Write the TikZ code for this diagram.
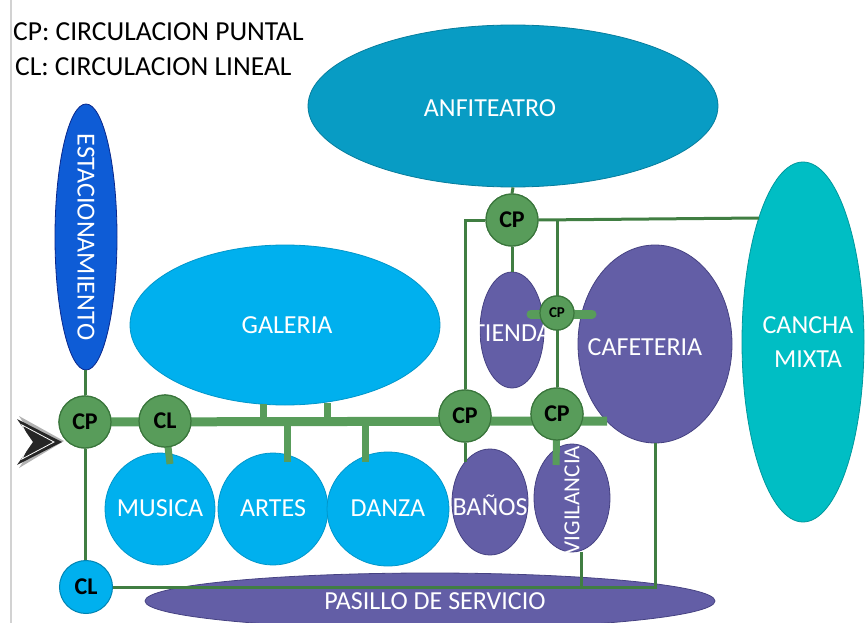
\documentclass[tikz,border=0pt]{standalone}
\usepackage{fontspec}
\setmainfont{Carlito}
\usetikzlibrary{shapes.geometric}
\definecolor{anfc}{RGB}{8,156,196}
\definecolor{skyc}{RGB}{0,176,238}
\definecolor{estc}{RGB}{14,92,214}
\definecolor{estb}{RGB}{10,40,140}
\definecolor{purc}{RGB}{99,94,166}
\definecolor{purb}{RGB}{70,66,130}
\definecolor{canc}{RGB}{0,190,196}
\definecolor{grnc}{RGB}{88,156,90}
\definecolor{grnb}{RGB}{58,118,60}
\begin{document}
\begin{tikzpicture}[x=1pt,y=-1pt,
  shp/.style={ellipse, inner sep=0pt, draw, line width=0.8pt},
  lbl/.style={text=white, font=\fontsize{26}{30}\selectfont, inner sep=0pt, align=center},
  cpnode/.style={circle, fill=grnc, draw=grnb, line width=1.2pt, inner sep=0pt, minimum size=52pt, font=\bfseries\fontsize{24}{26}\selectfont},
  barline/.style={draw=grnc, line width=9pt},
  stub/.style={draw=grnc, line width=7pt},
  thinline/.style={draw=grnb!80!grnc, line width=3pt},
]
\useasboundingbox (0,0) rectangle (865,623);
\clip (0,0) rectangle (865,623);
\draw[gray!35, line width=1.2pt] (11,0) -- (11,623);

% legend
\node[anchor=west, inner sep=0pt, font=\fontsize{27.5}{30}\selectfont] (leg1) at (13,32) {CP: CIRCULACION PUNTAL};
\node[anchor=west, inner sep=0pt, font=\fontsize{27.5}{30}\selectfont] (leg2) at (15,67) {CL: CIRCULACION LINEAL};

% spaces
\node[shp, fill=anfc, draw=anfc!80!black, minimum width=410pt, minimum height=162pt] (anf) at (513,106) {};
\node[lbl] (anft) at (490,108) {ANFITEATRO};
\node[shp, fill=estc, draw=estb, minimum width=62pt, minimum height=266pt] (est) at (86,237) {};
\node[lbl, rotate=-90] (estt) at (86,237) {ESTACIONAMIENTO};
\node[shp, fill=skyc, draw=skyc!85!black, minimum width=310pt, minimum height=160pt] (gal) at (285,325) {};
\node[lbl] (galt) at (287,325) {GALERIA};
\node[shp, fill=canc, draw=canc!80!black, minimum width=122pt, minimum height=360pt] (can) at (803,342) {};
\node[lbl] (cant) at (808,342) {CANCHA\\[4pt]MIXTA};
\node[shp, fill=purc, draw=purb, minimum width=64pt, minimum height=116pt] (tie) at (512,330) {};
\node[lbl] (tiet) at (512,333) {TIENDA};
\node[shp, fill=purc, draw=purb, minimum width=154pt, minimum height=198pt] (caf) at (655,344) {};
\node[lbl] (caft) at (645,347) {CAFETERIA};
\node[shp, fill=skyc, draw=skyc!85!black, minimum width=110pt, minimum height=112pt] (mus) at (160,509) {};
\node[lbl] (must) at (160,508) {MUSICA};
\node[shp, fill=skyc, draw=skyc!85!black, minimum width=110pt, minimum height=112pt] (art) at (273,509) {};
\node[lbl] (artt) at (273,508) {ARTES};
\node[shp, fill=skyc, draw=skyc!85!black, minimum width=122pt, minimum height=114pt] (dan) at (388,509) {};
\node[lbl] (dant) at (388,508) {DANZA};
\node[shp, fill=purc, draw=purb, minimum width=76pt, minimum height=106pt] (ban) at (490,502) {};
\node[lbl] (bant) at (490,505) {BAÑOS};
\node[shp, fill=purc, draw=purb, minimum width=76pt, minimum height=108pt] (vig) at (572,498) {};
\node[lbl, font=\fontsize{23}{26}\selectfont, rotate=90] (vigt) at (572,500) {VIGILANCIA};
\node[shp, fill=purc, draw=purb, minimum width=570pt, minimum height=56pt] (pas) at (430,601) {};
\node[lbl] (past) at (435,601) {PASILLO DE SERVICIO};

% coordinates for free ends
\coordinate (barend) at (607,421);
\coordinate (g1) at (263,404);
\coordinate (g2) at (327,403);
\coordinate (ma) at (170,464);
\coordinate (a1) at (287,421);
\coordinate (a2) at (287,462);
\coordinate (d1) at (365,421);
\coordinate (d2) at (365,462);
\coordinate (b2) at (465,462);
\coordinate (v2) at (556,465);
\coordinate (vs) at (581,552);
\coordinate (cx) at (759,218);
\coordinate (sL) at (531,314);
\coordinate (sR) at (592,314);

% CP / CL nodes (placed first for naming, redrawn on top)
\node[cpnode] (cpL) at (85,422) {CP};
\node[cpnode] (clA) at (165,421) {CL};
\node[cpnode] (cpM) at (465,416) {CP};
\node[cpnode] (cpR) at (557,414) {CP};
\node[cpnode] (cpT) at (512,220) {CP};
\node[cpnode, minimum size=34pt, font=\bfseries\fontsize{15}{17}\selectfont] (cpS) at (557,313) {CP};
\node[circle, fill=skyc, draw=skyc!75!black, line width=1pt, minimum size=53pt, inner sep=0pt, font=\bfseries\fontsize{24}{26}\selectfont] (clB) at (86,587) {CL};

% connectors
\draw[thinline] (anf.south) -- (cpT.north);
\draw[thinline] (cpT.west) -| (cpM.north);
\draw[thinline] (cpT.east) -- (cx);
\draw[thinline] (cpR |- cpT) -- (cpR.north);
\draw[thinline] (cpT.south) -- (tie.north);
\draw[thinline] (cpL.north) -- (cpL.north |- est.south);
\draw[thinline] (cpL.south) -- (cpL.south |- clB.north);
\draw[thinline] (clB.east) -| (caf.south);
\draw[thinline] (vs) -- (vs |- clB);
\draw[thinline] (cpM.south) -- (b2);
\draw[barline] (cpL.center) -- (barend);
\draw[barline, line cap=round] (sL) -- (sR);
\draw[stub] (g1) -- (g1 |- barend);
\draw[stub] (g2) -- (g2 |- barend);
\draw[stub] (clA.center) -- (ma);
\draw[stub] (a1) -- (a2);
\draw[stub] (d1) -- (d2);
\draw[stub] (cpR.center) -- (v2);

% redraw CP nodes on top
\node[cpnode] at (cpL) {CP};
\node[cpnode] at (clA) {CL};
\node[cpnode] at (cpM) {CP};
\node[cpnode] at (cpR) {CP};
\node[cpnode] at (cpT) {CP};
\node[cpnode, minimum size=34pt, font=\bfseries\fontsize{15}{17}\selectfont] at (cpS) {CP};

% entry arrow
\coordinate (arrtip) at (62,442);
\fill[gray!60] (19,416) -- (64,441) -- (19,468) -- (36,442) -- cycle;
\fill[black!85] (17,419) -- (arrtip) -- (17,465) -- (33,442) -- cycle;
\draw[white, line width=0.8pt] (22,425) -- (54,442) -- (22,459) -- (30,442) -- cycle;
\end{tikzpicture}
\end{document}
